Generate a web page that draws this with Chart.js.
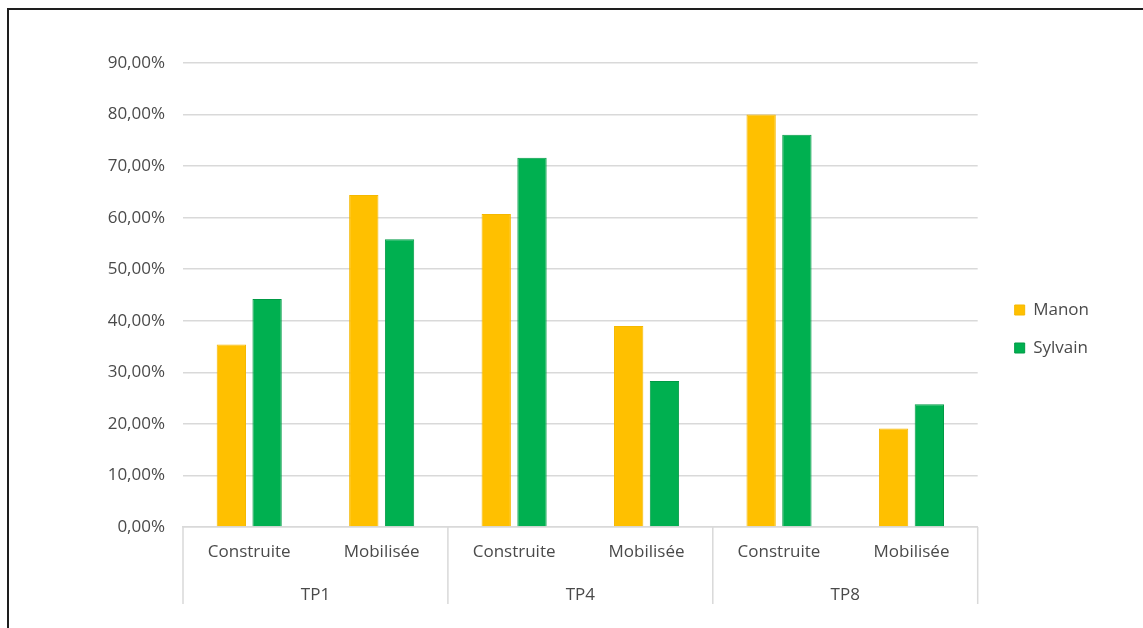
<!DOCTYPE html>
<html>
<head>
<meta charset="utf-8">
<script src="https://cdn.jsdelivr.net/npm/chart.js@4"></script>
<style>
  html, body { margin: 0; padding: 0; background: #fff; overflow: hidden; }
  #wrap { position: relative; width: 1143px; height: 628px; }
  #frame { position: absolute; left: 7px; top: 8px; width: 1160px; height: 640px;
           border: 2px solid #1e1e1e; box-sizing: border-box; pointer-events: none; }
</style>
</head>
<body>
<div id="wrap">
  <canvas id="c"></canvas>
  <div id="frame"></div>
</div>
<script>
const subCategories = ['Construite', 'Mobilisée', 'Construite', 'Mobilisée', 'Construite', 'Mobilisée'];
const groups = ['TP1', 'TP4', 'TP8'];
const seriesNames = ['Manon', 'Sylvain'];
const manon = [35.4, 64.4, 60.7, 39.0, 80.0, 19.1];
const sylvain = [44.2, 55.8, 71.6, 28.3, 76.1, 23.8];
const yTicks = [0, 10, 20, 30, 40, 50, 60, 70, 80, 90];

const textColor = '#4a4a4a';
const gridColor = '#d9d9d9';
const font = { family: "'Open Sans', sans-serif", size: 17 };

const groupSeparators = {
  id: 'groupSeparators',
  afterDraw(chart) {
    const x2 = chart.scales.x2, area = chart.chartArea, ctx = chart.ctx;
    ctx.save();
    ctx.strokeStyle = gridColor;
    ctx.lineWidth = 1.5;
    for (let i = 0; i <= groups.length; i++) {
      const px = x2.getPixelForValue(i - 0.5);
      ctx.beginPath();
      ctx.moveTo(px, area.bottom);
      ctx.lineTo(px, x2.bottom);
      ctx.stroke();
    }
    ctx.restore();
  }
};

new Chart(document.getElementById('c'), {
  type: 'bar',
  data: {
    labels: subCategories,
    datasets: [
      { label: seriesNames[0], data: manon, backgroundColor: '#FFC000', borderColor: '#F5B800', borderWidth: 1,
        categoryPercentage: 0.54, barPercentage: 0.82, xAxisID: 'x', yAxisID: 'y' },
      { label: seriesNames[1], data: sylvain, backgroundColor: '#00B050', borderColor: '#009A45', borderWidth: 1,
        categoryPercentage: 0.54, barPercentage: 0.82, xAxisID: 'x', yAxisID: 'y' }
    ]
  },
  options: {
    responsive: true,
    maintainAspectRatio: false,
    animation: false,
    layout: { padding: { top: 54, left: 0, right: 44, bottom: 24 } },
    plugins: {
      legend: {
        position: 'right',
        align: 'center',
        labels: { font: font, color: textColor, boxWidth: 10, boxHeight: 10, padding: 21 }
      },
      tooltip: { enabled: false }
    },
    scales: {
      x: {
        type: 'category',
        position: 'bottom',
        weight: 0,
        grid: { display: false },
        border: { display: true, color: gridColor, width: 1.5 },
        ticks: { font: font, color: textColor, padding: 7, maxRotation: 0, autoSkip: false },
        afterFit(s) { s.height = 45; }
      },
      x2: {
        type: 'category',
        position: 'bottom',
        weight: 1,
        labels: groups,
        offset: true,
        grid: { display: false },
        border: { display: false },
        ticks: { font: font, color: textColor, padding: 5, maxRotation: 0, autoSkip: false },
        afterFit(s) { s.height = 32; }
      },
      xTop: {
        type: 'category',
        position: 'top',
        labels: [''],
        grid: { display: false },
        border: { display: false },
        ticks: { display: false },
        afterFit(s) { s.height = 9; }
      },
      y: {
        type: 'linear',
        position: 'left',
        min: 0,
        max: 90,
        afterBuildTicks(s) { s.ticks = yTicks.map(v => ({ value: v })); },
        grid: { color: gridColor, lineWidth: 1.5, drawTicks: false },
        border: { display: false },
        ticks: {
          font: font, color: textColor, padding: 18,
          callback: v => v.toFixed(2).replace('.', ',') + '%'
        },
        afterFit(s) { s.width = 183; }
      },
      yGap: {
        type: 'linear',
        position: 'right',
        display: true,
        grid: { display: false },
        border: { display: false },
        ticks: { display: false },
        afterFit(s) { s.width = 16; }
      }
    }
  },
  plugins: [groupSeparators]
});
</script>
</body>
</html>
